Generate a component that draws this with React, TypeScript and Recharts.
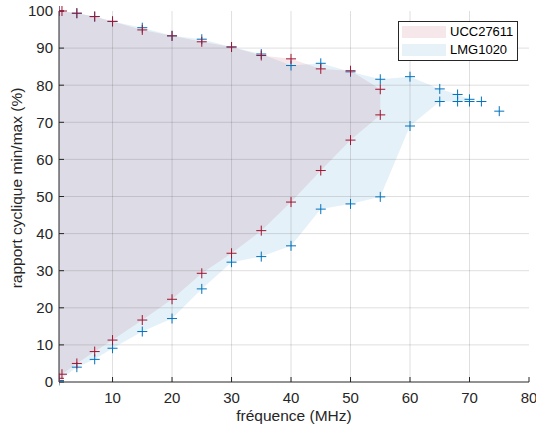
import React from "react";
import {
  ComposedChart,
  Area,
  Scatter,
  XAxis,
  YAxis,
  ReferenceLine,
} from "recharts";

// fréquence (MHz)
const freq = [1, 1.5, 4, 7, 10, 15, 20, 25, 30, 35, 40, 45, 50, 55, 60, 65, 68, 70];

// UCC27611 : rapport cyclique max / min (%)
const uccHigh = [100, 100, 99.4, 98.5, 97.2, 94.9, 93.3, 91.7, 90.3, 88, 87.1, 84.4, 83.9, 78.9, null, null, null, null];
const uccLow = [1.0, 2.1, 5.0, 8.2, 11.3, 16.7, 22.3, 29.3, 34.7, 40.8, 48.5, 57, 65.2, 72.0, null, null, null, null];

// LMG1020 : rapport cyclique max / min (%)
const lmgHigh = [100, null, 99.4, 98.5, 97.2, 95.5, 93.3, 92.4, 90.3, 88.4, 85.3, 85.9, 83.6, 81.6, 82.3, 79, 77.5, 76.2];
const lmgLow = [0.4, null, 4.0, 6.1, 9.1, 13.6, 17.1, 25.1, 32.3, 33.8, 36.7, 46.6, 48.0, 49.9, 69.0, 75.6, 75.6, 75.6];

// LMG1020 : points mesurés hors zone
const lmgExtraFreq = [72, 75];
const lmgExtra = [75.6, 73];

const xTicks = [10, 20, 30, 40, 50, 60, 70, 80];
const yTicks = [0, 10, 20, 30, 40, 50, 60, 70, 80, 90, 100];

const RED = "#A2142F";
const BLUE = "#0072BD";
const INK = "#262626";
const FONT = "'Liberation Sans', Arial, Helvetica, sans-serif";

const data = freq.map((f, i) => ({
  f,
  ucc: uccHigh[i] == null ? null : [uccLow[i], uccHigh[i]],
  lmg: lmgHigh[i] == null ? null : [lmgLow[i], lmgHigh[i]],
}));

const pts = (xs: number[], ys: (number | null)[]) =>
  xs.map((f, i) => ({ f, y: ys[i] })).filter((p) => p.y != null);

const uccPoints = [...pts(freq, uccHigh), ...pts(freq, uccLow)];
const lmgPoints = [
  ...pts(freq, lmgHigh),
  ...pts(freq, lmgLow),
  ...pts(lmgExtraFreq, lmgExtra),
];

const plus = (color: string) => (props: any) => {
  const { cx, cy } = props;
  if (cx == null || cy == null) return <g />;
  return (
    <path
      d={`M${cx - 5},${cy}h10M${cx},${cy - 5}v10`}
      stroke={color}
      strokeWidth={1}
      fill="none"
    />
  );
};

const LegendBox = () => (
  <div
    style={{
      position: "absolute",
      left: 398,
      top: 21,
      width: 118,
      height: 38,
      border: `1px solid ${INK}`,
      background: "#fff",
      fontFamily: FONT,
      fontSize: 13,
      color: "#000",
    }}
  >
    {[
      { name: "UCC27611", color: "#F6E7EA", top: 3 },
      { name: "LMG1020", color: "#E6F1F8", top: 21 },
    ].map((it) => (
      <div
        key={it.name}
        style={{ position: "absolute", left: 3, top: it.top, height: 13, display: "flex", alignItems: "center" }}
      >
        <span style={{ display: "inline-block", width: 44, height: 12, background: it.color }} />
        <span style={{ marginLeft: 4, lineHeight: "13px" }}>{it.name}</span>
      </div>
    ))}
  </div>
);

export default function App() {
  return (
    <div style={{ position: "absolute", left: 0, top: 0, width: 536, height: 432, background: "#fff" }}>
      <ComposedChart
        width={536}
        height={432}
        data={data}
        margin={{ top: 11, right: 7, bottom: 0, left: 0 }}
      >
        <XAxis
          dataKey="f"
          type="number"
          domain={[1, 80]}
          ticks={xTicks}
          allowDataOverflow
          height={50}
          tickSize={-5}
          tickMargin={15}
          axisLine={{ stroke: INK }}
          tickLine={{ stroke: INK }}
          tick={{ fill: INK, fontSize: 15, fontFamily: FONT }}
          interval={0}
          label={{
            content: () => (
              <text x={294} y={421} textAnchor="middle" fill={INK} fontSize={15.5} fontFamily={FONT}>
                fréquence (MHz)
              </text>
            ),
          }}
        />
        <XAxis
          xAxisId="top"
          dataKey="f"
          type="number"
          orientation="top"
          domain={[1, 80]}
          ticks={xTicks}
          allowDataOverflow
          height={0}
          tickSize={-5}
          tick={false}
          axisLine={{ stroke: INK }}
          tickLine={{ stroke: INK }}
        />
        <YAxis
          type="number"
          domain={[0, 100]}
          ticks={yTicks}
          width={59}
          tickSize={-5}
          tickMargin={11}
          interval={0}
          axisLine={{ stroke: INK }}
          tickLine={{ stroke: INK }}
          tick={{ fill: INK, fontSize: 15, fontFamily: FONT }}
          label={{
            content: () => (
              <text
                x={16}
                y={188}
                transform="rotate(-90 16 188)"
                textAnchor="middle"
                dominantBaseline="central"
                fill={INK}
                fontSize={15.5}
                fontFamily={FONT}
              >
                rapport cyclique min/max (%)
              </text>
            ),
          }}
        />
        <YAxis
          yAxisId="right"
          orientation="right"
          type="number"
          domain={[0, 100]}
          ticks={yTicks}
          width={0}
          tickSize={-5}
          tick={false}
          axisLine={{ stroke: INK }}
          tickLine={{ stroke: INK }}
        />

        <Area
          dataKey="ucc"
          type="linear"
          stroke="none"
          fill={RED}
          fillOpacity={0.1}
          isAnimationActive={false}
          activeDot={false}
        />
        <Area
          dataKey="lmg"
          type="linear"
          stroke="none"
          fill={BLUE}
          fillOpacity={0.1}
          connectNulls
          isAnimationActive={false}
          activeDot={false}
        />

        {xTicks.slice(0, -1).map((t) => (
          <ReferenceLine key={`gx${t}`} x={t} stroke={INK} strokeOpacity={0.15} />
        ))}
        {yTicks.slice(1, -1).map((t) => (
          <ReferenceLine key={`gy${t}`} y={t} stroke={INK} strokeOpacity={0.15} />
        ))}

        <Scatter
          data={lmgPoints}
          dataKey="y"
          shape={plus(BLUE)}
          isAnimationActive={false}
        />
        <Scatter
          data={uccPoints}
          dataKey="y"
          shape={plus(RED)}
          isAnimationActive={false}
        />
      </ComposedChart>
      <LegendBox />
    </div>
  );
}
